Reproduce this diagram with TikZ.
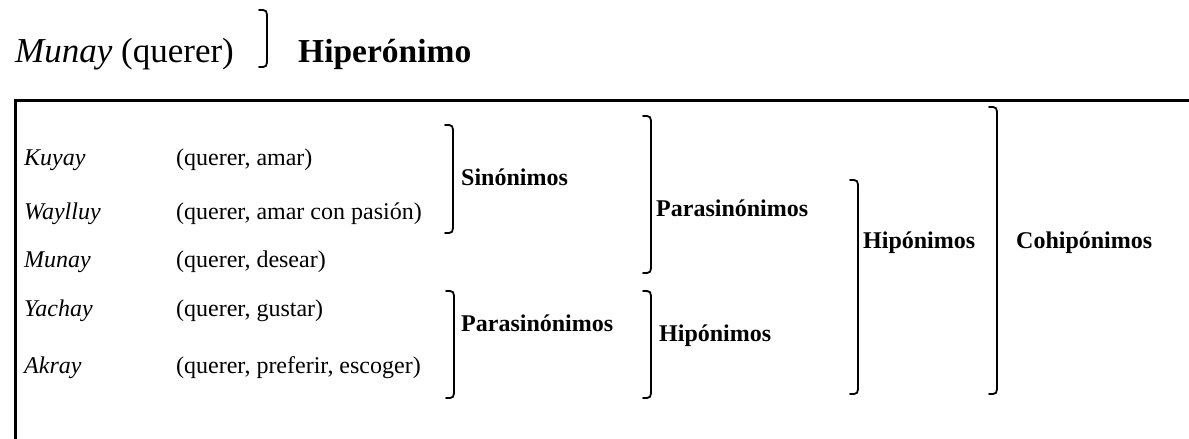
\documentclass[tikz,border=0pt]{standalone}
\usepackage{fontspec}
\setmainfont{Liberation Serif}
\usepackage{tikz}
\usetikzlibrary{calc, positioning}
\definecolor{mainBlack}{gray}{0.0}

\begin{document}
\begin{tikzpicture}[x=1pt, y=-1pt, mainBlack,
    word/.style={anchor=base west, inner sep=0pt, font=\fontsize{24}{29}\selectfont\itshape},
    gloss/.style={anchor=base west, inner sep=0pt, font=\fontsize{24}{29}\selectfont},
    tag/.style={anchor=base west, inner sep=0pt, font=\fontsize{24}{29}\selectfont\bfseries},
    brk/.style={line width=1.8pt, line cap=round}]
            \useasboundingbox (0,0) rectangle (1189,439);
            % hiperonimo
            \node[anchor=base west, inner sep=0pt, font=\fontsize{35}{42}\selectfont] (top) at (15,62) {\textit{Munay} (querer)};
            \node[anchor=base west, inner sep=0pt, font=\fontsize{33.5}{40}\selectfont\bfseries] (hiper) at (298,62) {Hiperónimo};
            % marco
            \draw[line width=3pt] (1189,100) -- (15,100) -- (15,439);
            % palabras
            \foreach \n/\w/\g/\y in {kuyay/Kuyay/{(querer, amar)}/165,
                                    waylluy/Waylluy/{(querer, amar con pasión)}/219,
                                    munay/Munay/{(querer, desear)}/267,
                                    yachay/Yachay/{(querer, gustar)}/316,
                                    akray/Akray/{(querer, preferir, escoger)}/373} {
                \node[word] (\n) at (24,\y) {\w};
                \node[gloss] (\n-g) at (176,\y) {\g};
            }
            % llaves
            \foreach \x/\t/\b in {267/10/67, 453/125/233, 454/291/398, 651/116/273, 651/291/398, 858/180/394, 997/107/394} {
                \draw[brk] (\x-8,\t) .. controls (\x,\t) .. (\x,\t+10) -- (\x,\b-10) .. controls (\x,\b) .. (\x-8,\b);
            }
            \node[tag] (sin) at (461,185) {Sinónimos};
            \node[tag] (para1) at (461,331) {Parasinónimos};
            \node[tag] (para2) at (656,216) {Parasinónimos};
            \node[tag] (hipo1) at (659,341) {Hipónimos};
            \node[tag] (hipo2) at (863,248) {Hipónimos};
            \node[tag] (cohipo) at (1016,248) {Cohipónimos};
\end{tikzpicture}
\end{document}
